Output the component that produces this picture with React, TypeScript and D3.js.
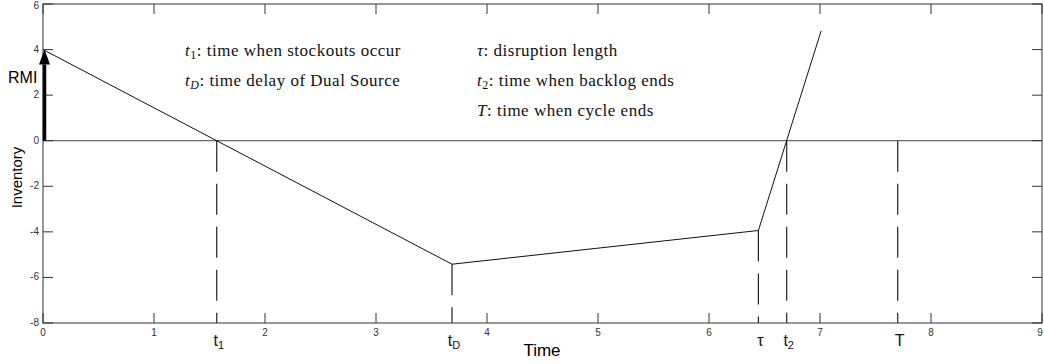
import React from "react";
import * as d3 from "d3";

// ---- data ----
const xTicks = [0, 1, 2, 3, 4, 5, 6, 7, 8, 9];
const yTicks = [-8, -6, -4, -2, 0, 2, 4, 6];
const inventoryTime = [0, 3.685, 6.445, 7.01];
const inventoryLevel = [4, -5.42, -3.94, 4.82];
const rmiLevel = 4;
const eventNames = ["t1", "tD", "tau", "t2", "T"];
const eventTimes = [1.565, 3.685, 6.445, 6.7, 7.7];
const eventTopLevels = [0, -5.42, -3.94, 0, 0];
const eventLabelMain = ["t", "t", "τ", "t", "T"];
const eventLabelSub = ["1", "D", "", "2", ""];
const legendLeft = [
  { sym: "t", sub: "1", text: ": time when stockouts occur" },
  { sym: "t", sub: "D", text: ": time delay of Dual Source" },
];
const legendRight = [
  { sym: "τ", sub: "", text: ": disruption length" },
  { sym: "t", sub: "2", text: ": time when backlog ends" },
  { sym: "T", sub: "", text: ": time when cycle ends" },
];

const W = 1044;
const H = 364;
const L = 43, R = 1042, TOP = 4, BOT = 323;

export default function App() {
  const x = d3.scaleLinear().domain([0, 9]).range([L, R]);
  const y = d3.scaleLinear().domain([-8, 6]).range([BOT, TOP]);
  const pts = inventoryTime.map((t, i) => [t, inventoryLevel[i]] as [number, number]);
  const line = d3
    .line<[number, number]>()
    .x((d) => x(d[0]))
    .y((d) => y(d[1]));
  const axisColor = "#333";
  const tickLen = 10;
  const serif = "'Liberation Serif', 'Times New Roman', serif";
  const sans = "'Liberation Sans', Arial, sans-serif";

  const ax = x(0) + 1.5;
  const arrowTip = y(rmiLevel);
  const arrowBase = arrowTip + 15;

  const legendRow = (
    item: { sym: string; sub: string; text: string },
    px: number,
    py: number,
    key: string
  ) => (
    <text key={key} x={px} y={py} fontFamily={serif} fontSize={17} letterSpacing={0.5} fill="#111">
      <tspan fontStyle="italic">{item.sym}</tspan>
      {item.sub ? (
        <tspan fontSize={12} dy={3} fontStyle={item.sub === "D" ? "italic" : "normal"}>
          {item.sub}
        </tspan>
      ) : null}
      <tspan dy={item.sub ? -3 : 0}>{item.text}</tspan>
    </text>
  );

  return (
    <svg
      width={W}
      height={H}
      style={{ position: "absolute", left: 0, top: 0, background: "#fff" }}
    >
      <rect x={0} y={0} width={W} height={H} fill="#fff" />
      {/* zero line */}
      <line x1={L} x2={R} y1={y(0)} y2={y(0)} stroke="#444" strokeWidth={1} />
      {/* dashed event lines */}
      {eventTimes.map((t, i) => (
        <line
          key={eventNames[i]}
          x1={x(t)}
          x2={x(t)}
          y1={y(eventTopLevels[i])}
          y2={y(-8)}
          stroke="#222"
          strokeWidth={1.2}
          strokeDasharray="31,12"
        />
      ))}
      {/* inventory curve */}
      <path d={line(pts) || ""} fill="none" stroke="#111" strokeWidth={1} />
      {/* axes box */}
      <rect x={L} y={TOP} width={R - L} height={BOT - TOP} fill="none" stroke={axisColor} strokeWidth={1} />
      {xTicks.map((t) => (
        <g key={"xt" + t}>
          <line x1={x(t)} x2={x(t)} y1={BOT} y2={BOT - tickLen} stroke={axisColor} />
          <line x1={x(t)} x2={x(t)} y1={TOP} y2={TOP + tickLen} stroke={axisColor} />
          <text x={Math.min(x(t), W - 4)} y={BOT + 13} textAnchor="middle" fontFamily={sans} fontSize={10} fill="#333">
            {t}
          </text>
        </g>
      ))}
      {yTicks.map((t) => (
        <g key={"yt" + t}>
          <line x1={L} x2={L + tickLen} y1={y(t)} y2={y(t)} stroke={axisColor} />
          <line x1={R} x2={R - tickLen} y1={y(t)} y2={y(t)} stroke={axisColor} />
          <text x={L - 4} y={Math.max(y(t) + 3, 9)} textAnchor="end" fontFamily={sans} fontSize={10} fill="#333">
            {t}
          </text>
        </g>
      ))}
      {/* RMI arrow */}
      <line x1={ax} x2={ax} y1={y(0)} y2={arrowBase} stroke="#000" strokeWidth={3.5} />
      <polygon
        points={`${ax},${arrowTip} ${ax - 5.5},${arrowBase} ${ax + 5.5},${arrowBase}`}
        fill="#000"
      />
      <text x={8} y={83} fontFamily={sans} fontSize={16} fill="#000">
        RMI
      </text>
      {/* axis titles */}
      <text x={542} y={356} textAnchor="middle" fontFamily={sans} fontSize={17} fill="#000">
        Time
      </text>
      <text
        transform={`translate(22,177.5) rotate(-90)`}
        textAnchor="middle"
        fontFamily={sans}
        fontSize={15}
        fill="#000"
      >
        Inventory
      </text>
      {/* event labels */}
      {eventTimes.map((t, i) => (
        <text
          key={"lab" + eventNames[i]}
          x={x(t) + 2}
          y={346}
          textAnchor="middle"
          fontFamily={sans}
          fontSize={16}
          fill="#111"
        >
          <tspan>{eventLabelMain[i]}</tspan>
          {eventLabelSub[i] ? (
            <tspan fontSize={11} dy={3}>
              {eventLabelSub[i]}
            </tspan>
          ) : null}
        </text>
      ))}
      {/* legend annotations */}
      {legendLeft.map((it, i) => legendRow(it, 185, 56 + i * 30, "ll" + i))}
      {legendRight.map((it, i) => legendRow(it, 477, 56 + i * 30, "lr" + i))}
    </svg>
  );
}
